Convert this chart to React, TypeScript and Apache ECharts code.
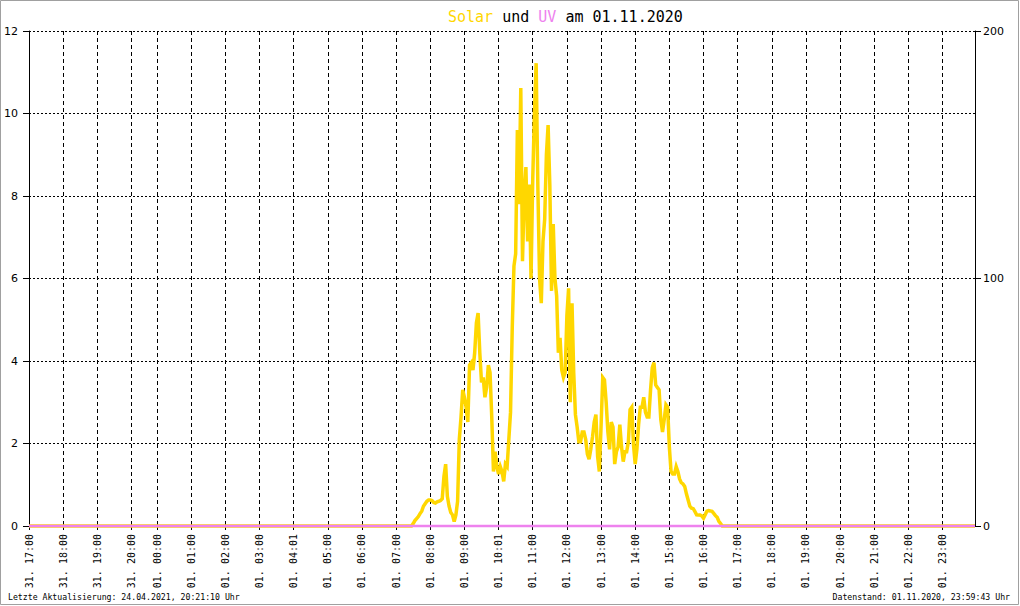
import React, { useEffect, useRef } from "react";
import * as echarts from "echarts";

// Hour tick labels shown under the axis (as printed on the original)
const tickLabels = [
  "31. 17:00", "31. 18:00", "31. 19:00", "31. 20:00",
  "01. 00:00", "01. 01:00", "01. 02:00", "01. 03:00", "01. 04:01", "01. 05:00",
  "01. 06:00", "01. 07:00", "01. 08:00", "01. 09:00", "01. 10:01", "01. 11:00",
  "01. 12:00", "01. 13:00", "01. 14:00", "01. 15:00", "01. 16:00", "01. 17:00",
  "01. 18:00", "01. 19:00", "01. 20:00", "01. 21:00", "01. 22:00", "01. 23:00",
];

// Solar radiation (W/m²), 3-minute samples from 01. 07:30 on; night values are 0
const solarStartTime = "01. 07:30";
const solarDay = [
  1, 2.2, 3, 3.8, 5, 6, 8, 9, 10, 10.5,
  10.5, 10.3, 9.5, 9.3, 9.8, 10, 10.3, 11, 20, 25,
  12, 8, 5.5, 4.5, 1.8, 4.5, 10, 35, 44, 55,
  52, 48, 42, 65, 66, 63, 70, 82, 86, 70,
  58, 60, 52, 56, 65, 62, 44, 22, 30, 24,
  21, 24, 22, 18, 25, 24, 35, 46, 80, 105,
  110, 160, 130, 177, 107, 133, 145, 115, 138, 100,
  140, 167, 187, 137, 100, 90, 115, 124, 150, 162,
  138, 95, 122, 100, 93, 70, 76, 63, 60, 62,
  85, 96, 50, 90, 62, 45, 40, 34, 34, 38,
  38, 35, 29, 27, 31, 36, 42, 45, 28, 22,
  40, 60, 59, 50, 38, 31, 42, 40, 25, 30,
  32, 41, 32, 26, 30, 30, 34, 47, 48, 33,
  25, 31, 41, 48, 48, 52, 46, 44, 44, 55,
  64, 66, 57, 56, 55, 43, 38, 43, 49, 48,
  32, 22, 21, 21, 24, 22, 19, 17.5, 17, 16,
  13, 10.5, 8, 7.2, 7, 5.8, 4.5, 4.4, 4.4, 4.1,
  3.2, 4.6, 6, 6.2, 6.1, 5.9, 5.1, 4.2, 3.5, 1.9,
  1, 0,
];

// UV index: 0 the whole time
const uvValue = 0;

const pad = (n: number) => String(n).padStart(2, "0");
const categories: string[] = [];
for (let k = 0; k < 75; k++) {
  const m = 17 * 60 + 3 * k;
  categories.push(`31. ${pad(Math.floor(m / 60))}:${pad(m % 60)}`);
}
for (let k = 0; k < 480; k++) {
  const m = 3 * k;
  categories.push(`01. ${pad(Math.floor(m / 60))}:${pad(m % 60)}`);
}
const isHour = (v: string) => v.endsWith(":00");
const hourCats = categories.filter(isHour);
const labelMap = new Map<string, string>(hourCats.map((c, k) => [c, tickLabels[k]]));

const solarStart = categories.indexOf(solarStartTime);
const solar = categories.map((_, i) =>
  i >= solarStart && i < solarStart + solarDay.length ? solarDay[i - solarStart] : 0
);
const uv = categories.map(() => uvValue);

const YELLOW = "#FFD700";
const VIOLET = "#EE82EE";
const MONO = "DejaVu Sans Mono";

export default function App() {
  const ref = useRef<HTMLDivElement>(null);
  useEffect(() => {
    document.body.style.margin = "0";
    const chart = echarts.init(ref.current!, null, { renderer: "svg" });
    const hourInterval = (_i: number, v: string) => isHour(v);
    chart.setOption({
      animation: false,
      backgroundColor: "#fff",
      title: {
        text: "{a|Solar} und {b|UV} am 01.11.2020",
        left: 443,
        top: 4,
        textStyle: {
          fontFamily: MONO,
          fontSize: 15,
          fontWeight: "normal",
          color: "#000",
          rich: {
            a: { color: YELLOW, fontFamily: MONO, fontSize: 15 },
            b: { color: VIOLET, fontFamily: MONO, fontSize: 15 },
          },
        },
      },
      grid: { left: 29, right: 45, top: 31, bottom: 80, containLabel: false },
      xAxis: {
        type: "category",
        boundaryGap: false,
        data: categories,
        axisLine: { show: true, lineStyle: { color: "#000", width: 1 } },
        axisTick: { show: true, interval: hourInterval, length: 4, lineStyle: { color: "#000" } },
        axisLabel: {
          interval: hourInterval,
          rotate: 90,
          margin: 8,
          fontFamily: MONO,
          fontSize: 10,
          color: "#000",
          formatter: (v: string) => labelMap.get(v) ?? "",
        },
        splitLine: {
          show: true,
          interval: hourInterval,
          lineStyle: { color: "#000", width: 1, type: [4, 3] },
        },
      },
      yAxis: [
        {
          type: "value",
          position: "left",
          min: 0,
          max: 12,
          interval: 2,
          axisLine: { show: true, lineStyle: { color: "#000", width: 1 } },
          axisTick: { show: true, length: 6, lineStyle: { color: "#000" } },
          axisLabel: { margin: 11, fontFamily: "DejaVu Sans", fontSize: 11, color: "#000" },
          splitLine: { show: true, lineStyle: { color: "#000", width: 1, type: [2, 2] } },
        },
        {
          type: "value",
          position: "right",
          min: 0,
          max: 200,
          interval: 100,
          axisLine: { show: true, lineStyle: { color: "#000", width: 1 } },
          axisTick: { show: true, length: 6, lineStyle: { color: "#000" } },
          axisLabel: { margin: 8, fontFamily: "DejaVu Sans", fontSize: 11, color: "#000" },
          splitLine: { show: false },
        },
      ],
      series: [
        {
          name: "Solar",
          type: "line",
          yAxisIndex: 1,
          data: solar,
          showSymbol: false,
          clip: false,
          lineStyle: { color: YELLOW, width: 3.5, join: "miter" },
          itemStyle: { color: YELLOW },
          z: 2,
        },
        {
          name: "UV",
          type: "line",
          yAxisIndex: 0,
          data: uv,
          showSymbol: false,
          clip: false,
          lineStyle: { color: VIOLET, width: 2.5 },
          itemStyle: { color: VIOLET },
          z: 3,
        },
      ],
      graphic: [
        {
          type: "rect",
          shape: { x: 0.5, y: 0.5, width: 1018, height: 604 },
          style: { fill: "none", stroke: "#a0a0a0", lineWidth: 1 },
          silent: true,
        },
        {
          type: "text",
          left: 8,
          top: 593,
          style: {
            text: "Letzte Aktualisierung: 24.04.2021, 20:21:10 Uhr",
            fontFamily: MONO,
            fontSize: 8.2,
            fill: "#000",
          },
        },
        {
          type: "text",
          right: 10,
          top: 593,
          style: {
            text: "Datenstand: 01.11.2020, 23:59:43 Uhr",
            fontFamily: MONO,
            fontSize: 8.2,
            fill: "#000",
          },
        },
      ],
    });
    return () => chart.dispose();
  }, []);
  return <div ref={ref} style={{ width: 1020, height: 606 }} />;
}
